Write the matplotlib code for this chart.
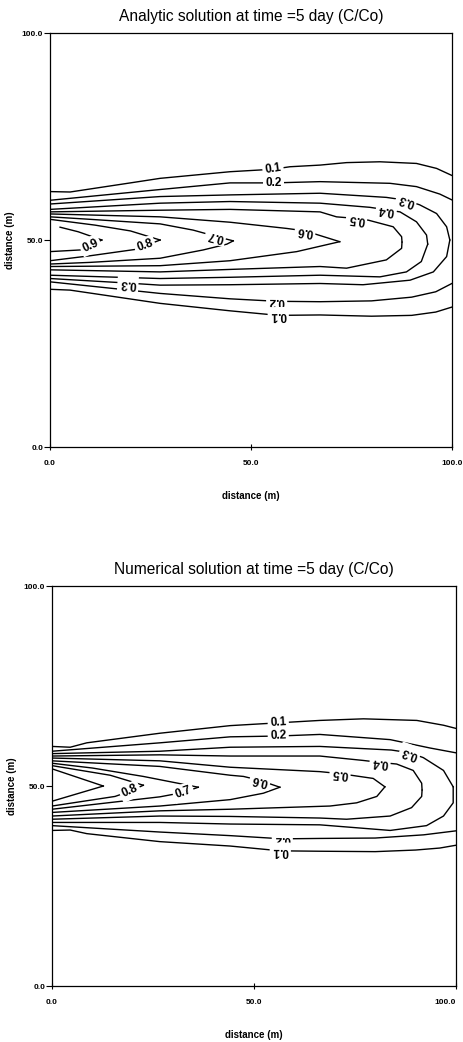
import matplotlib.pyplot as plt
import numpy as np

plt.rcParams["font.family"] = ["Liberation Sans", "DejaVu Sans"]

levels = [0.1, 0.2, 0.3, 0.4, 0.5, 0.6, 0.7, 0.8, 0.9]
ticks = [0, 50, 100]
tick_labels = ["0.0", "50.0", "100.0"]

# contour branches, (x, y) in metres, one list per level
ana_upper = [
    [(0, 61.7), (5, 61.6), (20, 63.8), (27.4, 64.9), (44.8, 66.5), (55.5, 67.1), (59.7, 67.7),
     (67.2, 68.1), (73.8, 68.7), (82.1, 68.9), (91.2, 68.5), (96.2, 67.3), (100, 65.6)],
    [(0, 59.6), (27.4, 62.2), (44.8, 63.8), (55.6, 63.8), (67.2, 64.1), (84.6, 63.7),
     (91.2, 62.9), (97, 61.1), (100, 59.7)],
    [(0, 58.7), (27.4, 60.5), (44.8, 60.9), (67.2, 61.3), (83.7, 60.3), (88.7, 59.6),
     (92, 58.5), (96.2, 56.4), (98.7, 53.2), (99.5, 50.0)],
    [(0, 57.4), (27.4, 58.9), (44.8, 59.3), (67.2, 58.9), (79.6, 57.9), (83.7, 57.3),
     (87.1, 56.8), (91.2, 54.4), (93.7, 51.2), (94.0, 49.0)],
    [(0, 56.8), (27.4, 57.2), (44.8, 57.4), (67.2, 56.8), (71.3, 55.6), (76.3, 55.2),
     (79.2, 54.8), (85.4, 53.2), (87.5, 50.8), (87.6, 49.5)],
    [(0, 56.3), (27.4, 55.6), (44.8, 54.3), (58.9, 52.8), (63.5, 52.2), (72.1, 49.6)],
    [(0, 55.6), (10, 55.0), (27.4, 53.9), (35.6, 52.4), (41.2, 50.9), (45.6, 49.8)],
    [(0, 55.0), (11.2, 53.6), (20, 52.2), (27.4, 50.0)],
    [(2.5, 53.1), (7, 52.0), (12.9, 50.0)],
]
ana_lower = [
    [(0, 38.1), (5, 37.9), (27.4, 34.7), (44.8, 32.9), (56.8, 31.8), (67.2, 31.9), (80, 31.6),
     (90, 31.8), (96, 32.6), (100, 33.8)],
    [(0, 39.9), (27.4, 37.1), (44.8, 35.8), (56.4, 35.2), (67.2, 35.1), (80, 35.3),
     (90, 36.2), (96, 37.5), (100, 39.5)],
    [(0, 40.7), (19.4, 39.6), (27.4, 39.1), (44.8, 39.2), (67.2, 39.5), (77.9, 39.2),
     (89.6, 40.3), (95.4, 42.3), (98.7, 46.0), (99.5, 50.0)],
    [(0, 41.5), (27.4, 40.7), (44.8, 41.0), (67.2, 41.5), (82.1, 41.1), (88.7, 42.3),
     (92.4, 44.8), (94.0, 49.0)],
    [(0, 42.8), (27.4, 42.3), (44.8, 42.9), (67.2, 43.6), (73.8, 43.2), (83.7, 45.2),
     (87.5, 48.0), (87.6, 49.5)],
    [(0, 43.6), (27.4, 43.8), (44.8, 45.0), (61.4, 47.2), (72.1, 49.6)],
    [(0, 44.2), (10, 44.6), (27.4, 45.6), (38.1, 47.6), (44, 49.0), (45.6, 49.8)],
    [(0, 45.0), (10, 46.2), (21, 47.7), (23.6, 48.6), (27.4, 50.0)],
    [(0, 47.2), (7.5, 47.6), (12.9, 50.0)],
]
# (level, branch, x, y, upside down)
ana_labels = [
    (0.1, "up", 55.5, 67.1, False), (0.2, "up", 55.6, 63.8, False),
    (0.3, "up", 88.7, 59.6, True), (0.4, "up", 83.7, 57.3, True),
    (0.5, "up", 76.3, 55.2, True), (0.6, "up", 63.5, 52.2, True),
    (0.7, "up", 41.2, 50.9, True), (0.8, "lo", 23.6, 48.6, False),
    (0.9, "lo", 10.0, 48.7, False), (0.3, "lo", 19.4, 39.6, True),
    (0.2, "lo", 56.4, 35.2, True), (0.1, "lo", 56.8, 31.8, True),
]

num_upper = [
    [(0, 59.9), (4.5, 59.7), (8.6, 60.8), (26.7, 63.2), (44.1, 65.1), (56, 65.8), (66.3, 66.4),
     (77.1, 66.8), (90.3, 66.4), (96.9, 65.2), (100, 64.4)],
    [(0, 58.7), (26.7, 60.8), (44.1, 62.3), (56, 62.5), (66.3, 62.9), (83.7, 61.6),
     (93.6, 59.5), (100, 58.3)],
    [(0, 58.1), (26.7, 58.7), (44.1, 59.7), (66.3, 59.9), (84, 59.0), (88.6, 58.3),
     (91.9, 57.1), (96.9, 53.9), (99.3, 49.8)],
    [(0, 57.5), (26.7, 57.8), (44.1, 57.5), (66.3, 57.5), (77, 56.4), (81.2, 55.9),
     (85.3, 55.5), (89.4, 53.9), (91.5, 50.7), (91.6, 49.0)],
    [(0, 57.0), (26.7, 56.3), (44.1, 54.7), (66.3, 53.6), (71.3, 53.1), (79.5, 51.9), (82.4, 49.8)],
    [(0, 56.3), (26.7, 54.9), (44.1, 52.7), (47.4, 52.4), (51.5, 51.4), (56.4, 49.7)],
    [(0, 55.7), (10, 54.5), (22.6, 52.4), (36.2, 49.7)],
    [(0, 55.1), (14.4, 52.7), (22.6, 50.2)],
    [(0, 54.3), (12.7, 50.0)],
]
num_lower = [
    [(0, 38.9), (4.5, 39.0), (8.6, 38.1), (26.7, 36.1), (44.1, 35.0), (56.5, 33.8), (66.3, 33.7),
     (80, 33.6), (90, 34.0), (96, 34.5), (100, 35.2)],
    [(0, 40.1), (26.7, 38.5), (44.1, 37.6), (57, 36.8), (66.3, 36.9), (80, 37.0),
     (92, 37.8), (100, 38.8)],
    [(0, 40.9), (26.7, 40.9), (44.1, 40.5), (66.3, 40.3), (83.7, 38.9), (92.7, 40.1),
     (96.9, 42.5), (99.3, 45.8), (99.3, 49.8)],
    [(0, 41.7), (26.7, 42.5), (44.1, 42.4), (66.3, 42.0), (72.9, 41.7), (83.7, 42.5),
     (89, 44.6), (91.5, 47.4), (91.6, 49.0)],
    [(0, 42.5), (26.7, 43.8), (44.1, 44.2), (68.8, 45.0), (75.4, 45.8), (80.4, 47.4), (82.4, 49.8)],
    [(0, 43.4), (26.7, 45.0), (44.1, 46.6), (52.3, 48.2), (56.4, 49.7)],
    [(0, 44.2), (26.7, 47.3), (32.5, 48.4), (36.2, 49.7)],
    [(0, 45.0), (15.6, 47.4), (19.3, 48.7), (22.6, 50.2)],
    [(0, 46.2), (12.7, 50.0)],
]
num_labels = [
    (0.1, "up", 56.0, 65.8, False), (0.2, "up", 56.0, 62.5, False),
    (0.3, "up", 88.6, 58.3, True), (0.4, "up", 81.2, 55.9, True),
    (0.5, "up", 71.3, 53.1, True), (0.6, "up", 51.5, 51.4, True),
    (0.7, "lo", 32.5, 48.4, False), (0.8, "lo", 19.3, 48.7, False),
    (0.2, "lo", 57.0, 36.8, True), (0.1, "lo", 56.5, 33.8, True),
]


def draw_panel(ax, upper, lower, labels, title, last_right=False):
    ax.set_xlim(0, 100)
    ax.set_ylim(0, 100)
    for pts in upper + lower:
        xy = np.array(pts)
        ax.plot(xy[:, 0], xy[:, 1], color="black", lw=1.0)

    for lev, branch, lx, ly, flip in labels:
        pts = np.array((upper if branch == "up" else lower)[levels.index(lev)])
        disp = ax.transData.transform(pts)
        p = ax.transData.transform((lx, ly))
        mids = (disp[1:] + disp[:-1]) / 2
        i = np.argmin(np.hypot(*(mids - p).T))
        dx, dy = disp[i + 1] - disp[i]
        ang = np.degrees(np.arctan2(dy, dx))
        if ang > 90:
            ang -= 180
        elif ang < -90:
            ang += 180
        if flip:
            ang += 180
        ax.text(lx, ly, f"{lev:.1f}", rotation=ang, rotation_mode="anchor",
                ha="center", va="center", fontsize=8.5, fontweight="bold", zorder=3,
                bbox=dict(boxstyle="square,pad=0.2", fc="white", ec="none"))

    ax.set_xticks(ticks)
    ax.set_xticklabels(tick_labels, fontsize=6, fontweight="bold")
    if last_right:
        ax.get_xticklabels()[-1].set_horizontalalignment("right")
    ax.set_yticks(ticks)
    ax.set_yticklabels(tick_labels, fontsize=6, fontweight="bold")
    ax.tick_params(axis="x", direction="inout", length=5, width=0.8, pad=7)
    ax.tick_params(axis="y", direction="out", length=4, width=0.8, pad=1)
    for sp in ax.spines.values():
        sp.set_linewidth(0.9)
    ax.set_xlabel("distance (m)", fontsize=7, fontweight="bold", labelpad=17)
    ax.set_ylabel("distance (m)", fontsize=7, fontweight="bold", labelpad=5)
    ax.set_title(title, fontsize=11.2, pad=9)


fig = plt.figure(figsize=(4.64, 10.42), dpi=100)
ax1 = fig.add_axes([0.1078, 0.571, 0.866, 0.3973])
ax2 = fig.add_axes([0.1121, 0.0537, 0.8707, 0.3839])

draw_panel(ax1, ana_upper, ana_lower, ana_labels, "Analytic solution at time =5 day (C/Co)")
draw_panel(ax2, num_upper, num_lower, num_labels, "Numerical solution at time =5 day (C/Co)",
           last_right=True)

fig.savefig("out.png", dpi=100)
